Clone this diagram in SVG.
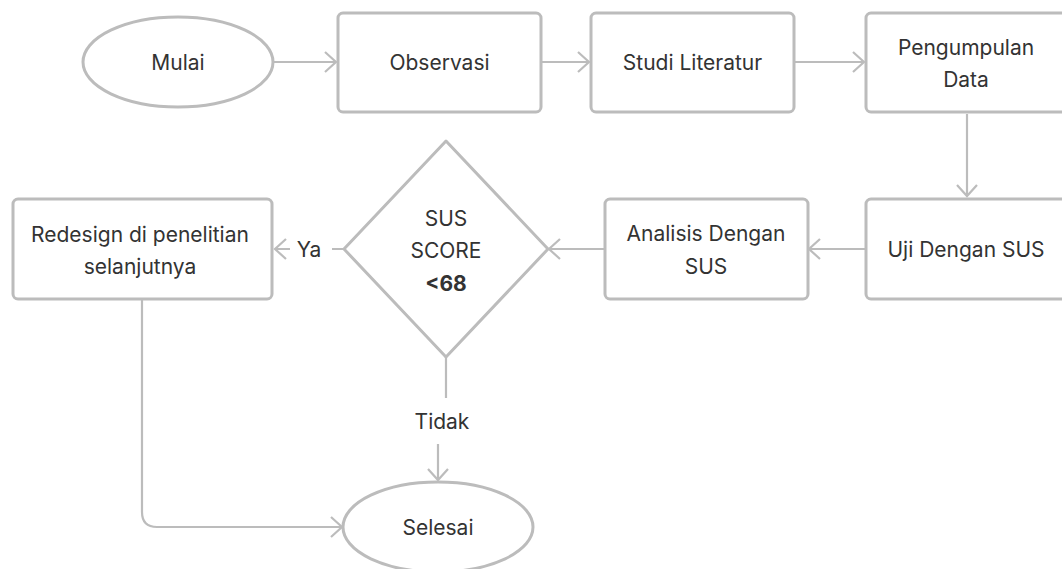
<svg xmlns="http://www.w3.org/2000/svg" width="1062" height="569" viewBox="0 0 1062 569">
<defs>
<style>
.n{fill:#fff;stroke:#bcbcbc;stroke-width:3;stroke-linejoin:round}
.c{fill:none;stroke:#bcbcbc;stroke-width:2.2}
.t{font-family:Inter,"Noto Sans",sans-serif;font-size:21px;fill:#333;text-anchor:middle}
.b{font-weight:700}
</style>
<marker id="ah" markerUnits="userSpaceOnUse" markerWidth="24" markerHeight="24" viewBox="-14 -12 16 24" refX="0" refY="0" orient="auto">
<path d="M-11,-10 L0,0 L-11,10" fill="none" stroke="#bcbcbc" stroke-width="2.2"/>
</marker>
</defs>
<rect width="1062" height="569" fill="#fff"/>
<g id="connectors">
<path class="c" d="M273,62 H336" marker-end="url(#ah)"/>
<path class="c" d="M541,62 H589" marker-end="url(#ah)"/>
<path class="c" d="M794,62 H864" marker-end="url(#ah)"/>
<path class="c" d="M967,114 V196" marker-end="url(#ah)"/>
<path class="c" d="M865,249 H809" marker-end="url(#ah)"/>
<path class="c" d="M604,249 H549" marker-end="url(#ah)"/>
<path class="c" d="M344,249 H275" marker-end="url(#ah)"/>
<path class="c" d="M446,357 V415 H438 V480" marker-end="url(#ah)"/>
<path class="c" d="M142,300 V512 Q142,527 157,527 H342" marker-end="url(#ah)"/>
<rect x="290" y="236" width="42" height="26" fill="#fff"/>
<text class="t" x="309" y="257">Ya</text>
<rect x="408" y="398" width="68" height="46" fill="#fff"/>
<text class="t" x="442" y="429">Tidak</text>
</g>
<g id="mulai">
<ellipse class="n" cx="178" cy="62" rx="95" ry="45"/>
<text class="t" x="178" y="70">Mulai</text>
</g>
<g id="observasi">
<rect class="n" x="338" y="13" width="203" height="99" rx="5"/>
<text class="t" x="439.5" y="70">Observasi</text>
</g>
<g id="studi">
<rect class="n" x="591" y="13" width="203" height="99" rx="5"/>
<text class="t" x="692.5" y="70">Studi Literatur</text>
</g>
<g id="pengumpulan">
<rect class="n" x="866" y="13" width="203" height="99" rx="5"/>
<text class="t" x="966" y="55">Pengumpulan</text>
<text class="t" x="966" y="87">Data</text>
</g>
<g id="uji">
<rect class="n" x="866" y="199" width="203" height="100" rx="5"/>
<text class="t" x="966" y="257">Uji Dengan SUS</text>
</g>
<g id="analisis">
<rect class="n" x="605" y="199" width="203" height="100" rx="5"/>
<text class="t" x="706" y="241">Analisis Dengan</text>
<text class="t" x="706" y="274">SUS</text>
</g>
<g id="keputusan">
<polygon class="n" points="446,141 548,249 446,357 344,249"/>
<text class="t" x="446" y="226">SUS</text>
<text class="t" x="446" y="258">SCORE</text>
<text class="t b" x="446" y="291">&lt;68</text>
</g>
<g id="redesign">
<rect class="n" x="13" y="199" width="259" height="100" rx="5"/>
<text class="t" x="140" y="242">Redesign di penelitian</text>
<text class="t" x="140" y="274">selanjutnya</text>
</g>
<g id="selesai">
<ellipse class="n" cx="438" cy="527" rx="95" ry="45"/>
<text class="t" x="438" y="535">Selesai</text>
</g>
</svg>
